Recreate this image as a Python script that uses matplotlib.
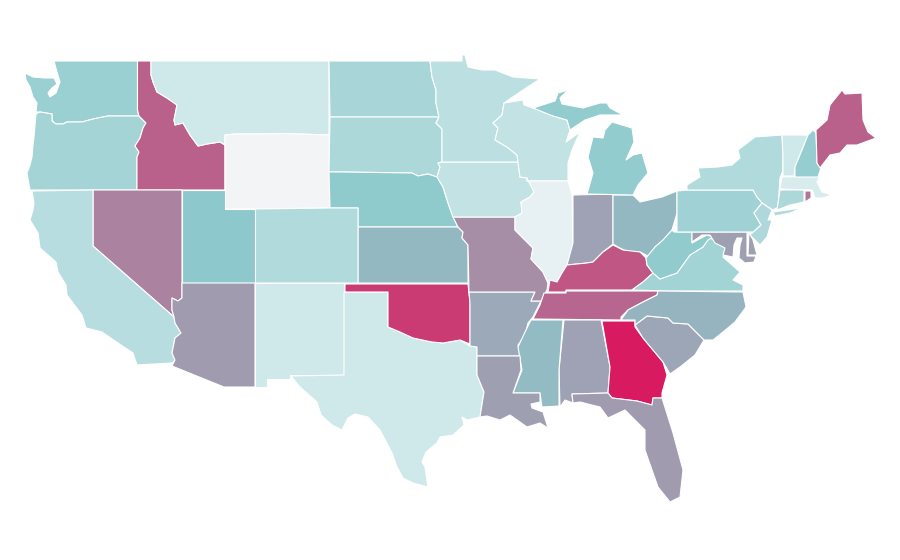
import matplotlib
matplotlib.use("Agg")
import matplotlib.pyplot as plt
from matplotlib.colors import LinearSegmentedColormap, Normalize
from matplotlib.patches import Polygon

states = ["WA","OR","ID","MT","WY","ND","SD","NE","KS","CO","UT","NV","CA","AZ","NM","TX","OK","AR","MO","IA","MN","WI","IL","IN","OH","MI","MI2","KY","TN","VA","WV","MD","DE","PA","NY","LI","NJ","CT","RI","MA","VT","NH","ME","AL","MS","LA","GA","FL","SC","NC"]
values = [43,39,80,18,0,37,35,49,55,33,50,70,29,63,18,18,91,59,67,24,27,24,6,61,55,47,47,83,78,40,48,62,62,41,33,33,34,35,74,14,18,46,80,61,54,62,100,63,60,56]

WA = [(54,61),(137.5,61),(137.5,110),(139,116),(108,116),(93,119),(82,122),(67,122),(63,124),(55,124),(52,120),(52,114),(40,112),(36,112),(37,103),(33,97),(30,87),(26,80),(25,73),(33,77),(45,78),(54,78),(57,84),(52,88),(48,93),(50,97),(56,93),(60,82),(57,72)]
OR = [(36,114),(40,112),(52,114),(52,121),(56,124),(63,124),(67,122),(82,122),(93,119),(108,116),(139,116),(146,123),(143,128),(140,138),(135,146),(139,152),(137,157),(137,190),(30,190),(27,173),(30,165),(32,157),(33,145),(34,137)]
ID = [(137.5,61),(151,61),(151,75),(153,82),(157,92),(167,98),(177,105),(174,120),(175,125),(183,123),(190,135),(198,146),(207,144),(220,142),(225,145),(225,190),(137,190),(137,157),(139,152),(135,146),(140,138),(143,128),(146,123),(139,116),(137.5,110)]
MT = [(151,61),(329,61),(329,135),(285,133.5),(265,134),(235,134),(225,135),(225,145),(220,142),(207,144),(198,146),(190,135),(183,123),(175,125),(174,120),(177,105),(167,98),(157,92),(153,82),(151,75)]
WY = [(225,135),(235,134),(265,134),(285,133.5),(329,135),(330,208),(225,209)]
ND = [(329,61),(430,61),(432,77),(436,90),(436,103),(439,117),(330,117)]
SD = [(330,117),(439,117),(436,123),(442,129),(442,162),(438,163),(440,167),(437,177),(428,174),(418,176),(412,173),(342,172),(329,172)]
NE = [(329,172),(342,172),(412,173),(418,176),(428,174),(437,177),(443,187),(448,203),(453,217),(458,227),(358,227),(358,208),(330,208)]
KS = [(358,227),(458,227),(463,232),(462,238),(468,245),(468,283),(358,283)]
CO = [(255,209),(330,208),(358,208),(358,283),(255,283)]
UT = [(182,190),(225,190),(225,209),(255,209),(255,283),(182,283)]
NV = [(93,190),(182,190),(182,298),(178,301),(172,298),(172,310),(174,317),(93,246)]
CA = [(32,191),(93,190),(93,246),(174,317),(175,323),(181,333),(175,338),(172,353),(175,360),(172,363),(137,365),(133,353),(118,343),(102,332),(86,328),(82,315),(67,295),(66,285),(58,272),(56,262),(40,248),(38,233),(30,220),(33,210),(34,203)]
AZ = [(182,283),(255,283),(255,387),(224,387),(172,366),(175,360),(172,353),(175,338),(181,333),(175,323),(174,317),(172,310),(172,298),(178,301),(182,298)]
NM = [(255,283),(344,283),(344,375),(290,375),(290,379),(267,379),(267,387),(255,387)]
TX = [(344,292),(388,292),(388,327),(400,332),(413,338),(432,342),(443,343),(460,340),(470,346),(477,347),(477,375),(484,392),(480,417),(467,420),(462,417),(464,425),(453,435),(440,437),(437,443),(426,452),(422,462),(425,467),(428,487),(413,483),(403,478),(397,467),(392,453),(380,430),(368,417),(355,414),(348,418),(342,430),(332,425),(321,415),(317,402),(300,387),(291,376),(344,375)]
OK = [(345,284),(468,284),(470,303),(470,344),(460,340),(443,343),(432,342),(413,338),(400,332),(388,327),(388,292),(345,292)]
AR = [(469,292),(535,292),(531,301),(541,301),(533,317),(528,323),(525,335),(518,345),(520,356),(477,356),(477,347),(470,346),(470,303)]
MO = [(453,217),(515,217),(515,225),(515,230),(533,248),(531,259),(543,272),(548,283),(547,290),(541,301),(531,301),(535,292),(469,292),(468,245),(462,238),(463,232),(458,227)]
IA = [(442,162),(518,162),(520,177),(527,178),(534,192),(530,197),(521,202),(522,213),(515,217),(453,217),(448,203),(443,187),(437,177),(440,167),(438,163)]
MN = [(430,61),(462,61),(462,55),(465,55),(468,67),(482,70),(495,70),(513,77),(540,79),(523,90),(504,103),(502,115),(493,123),(498,128),(495,140),(507,147),(517,155),(518,162),(442,162),(442,129),(436,123),(439,117),(436,103),(436,90),(432,77)]
WI = [(504,103),(523,100),(524,105),(533,108),(553,116),(567,120),(570,130),(566,142),(580,132),(572,150),(568,163),(568,181),(527,181),(527,178),(520,177),(518,162),(517,155),(507,147),(495,140),(498,128),(493,123),(502,115)]
IL = [(527,181),(568,181),(572,195),(573,243),(567,265),(562,273),(557,282),(550,280),(548,283),(543,272),(531,259),(533,248),(515,230),(515,225),(515,217),(522,213),(521,202),(530,197),(534,192),(527,178)]
IN = [(573,195),(613,194),(613,244),(603,252),(593,262),(587,263),(567,265),(573,243)]
OH = [(613,195),(633,195),(640,202),(662,197),(677,191),(677,213),(672,230),(663,240),(655,247),(650,257),(640,252),(630,253),(618,247),(613,244)]
MI = [(587,194),(593,173),(588,157),(593,137),(603,138),(605,130),(612,122),(632,128),(634,142),(626,160),(633,155),(642,153),(648,173),(638,185),(633,195)]
MI2 = [(533,108),(555,101),(558,93),(568,90),(560,98),(562,104),(583,108),(600,103),(607,103),(610,108),(623,115),(600,115),(585,120),(570,130),(567,120),(553,116)]
KY = [(548,292),(550,280),(557,282),(562,273),(567,265),(587,263),(593,262),(603,252),(613,245),(623,250),(640,252),(646,258),(647,265),(653,273),(643,282),(632,290),(600,290),(566,290),(566,292)]
TN = [(544,293),(566,293),(566,291),(600,291),(658,291),(657,295),(643,302),(628,310),(621,317),(621,320),(533,319),(540,305)]
VA = [(632,290),(643,282),(653,273),(660,279),(677,273),(690,255),(703,247),(708,237),(727,247),(723,257),(740,272),(733,280),(743,285),(743,291),(667,291)]
WV = [(674,232),(692,232),(692,243),(707,235),(713,237),(708,240),(703,247),(690,255),(677,273),(660,279),(653,273),(647,265),(646,258),(655,247),(663,240),(672,230)]
MD = [(692,232),(747,232),(747,256),(756,256),(754,262),(745,263),(739,258),(740,245),(742,238),(737,238),(734,245),(733,257),(723,255),(725,248),(715,243),(710,235),(702,235),(692,242)]
DE = [(749,232),(753,240),(757,255),(748,255)]
PA = [(677,191),(687,190),(753,190),(757,197),(762,203),(754,213),(761,225),(754,232),(677,232)]
NY = [(687,190),(687,185),(700,177),(698,168),(718,167),(732,165),(740,158),(738,150),(755,137),(782,135),(783,153),(783,170),(780,178),(778,207),(773,210),(762,203),(757,197),(753,190)]
LI = [(773,212),(802,208),(790,213),(775,216)]
NJ = [(762,203),(772,210),(768,220),(772,220),(767,237),(760,245),(750,235),(761,225),(754,213)]
CT = [(780,190),(804,190),(804,202),(790,205),(777,210)]
RI = [(805,191),(811,191),(811,198),(805,202)]
MA = [(782,177),(820,176),(817,182),(822,192),(832,195),(823,198),(815,198),(812,190),(780,189)]
VT = [(782,135),(808,135),(802,150),(795,167),(794,176),(783,176),(783,157)]
NH = [(808,135),(813,130),(816,133),(817,163),(821,168),(818,177),(795,177),(795,167),(802,150)]
ME = [(816,130),(827,120),(830,105),(842,90),(845,94),(862,93),(863,120),(868,132),(876,138),(857,145),(847,145),(840,153),(830,155),(820,168),(817,163)]
AL = [(564,320),(601,320),(610,367),(608,393),(572,394),(573,403),(565,400),(560,407),(559,370)]
MS = [(531,320),(563,320),(559,370),(559,406),(542,407),(540,393),(513,393),(522,370),(518,347),(525,332)]
LA = [(477,356),(520,356),(521,370),(513,393),(540,393),(540,402),(531,404),(532,408),(543,412),(548,428),(540,423),(527,427),(510,415),(500,420),(487,416),(480,417),(484,392),(477,375)]
GA = [(602,321),(635,321),(635,327),(643,338),(663,362),(667,375),(662,393),(662,398),(653,398),(652,405),(637,401),(612,398),(608,393),(610,367)]
FL = [(572,394),(608,393),(612,398),(637,401),(652,405),(653,398),(662,398),(673,433),(683,470),(680,497),(670,502),(658,487),(645,450),(645,430),(625,410),(608,418),(600,407),(580,402),(573,403)]
SC = [(635,325),(647,316),(668,318),(673,323),(688,324),(704,340),(695,355),(680,367),(670,374),(663,362),(643,338)]
NC = [(621,320),(628,310),(643,302),(657,295),(658,291),(743,292),(746,307),(735,322),(723,332),(713,340),(704,340),(688,324),(673,323),(668,318),(647,316),(635,325),(635,320)]

outlines = [WA,OR,ID,MT,WY,ND,SD,NE,KS,CO,UT,NV,CA,AZ,NM,TX,OK,AR,MO,IA,MN,WI,IL,IN,OH,MI,MI2,KY,TN,VA,WV,MD,DE,PA,NY,LI,NJ,CT,RI,MA,VT,NH,ME,AL,MS,LA,GA,FL,SC,NC]

cmap = LinearSegmentedColormap.from_list(
    "score", [(0, "#f3f4f6"), (0.18, "#cfe8ea"), (0.5, "#8dc9cc"), (1, "#d81b60")])
norm = Normalize(0, 100)

fig = plt.figure(figsize=(9, 5.6), dpi=100, facecolor="white")
ax = fig.add_axes([0, 0, 1, 1])
ax.set_xlim(0, 900)
ax.set_ylim(560, 0)
ax.axis("off")
for name, outline, value in zip(states, outlines, values):
    ax.add_patch(Polygon(outline, closed=True, facecolor=cmap(norm(value)),
                         edgecolor="white", linewidth=0.8, joinstyle="round", label=name))
fig.savefig("out.png", dpi=100, facecolor="white")
